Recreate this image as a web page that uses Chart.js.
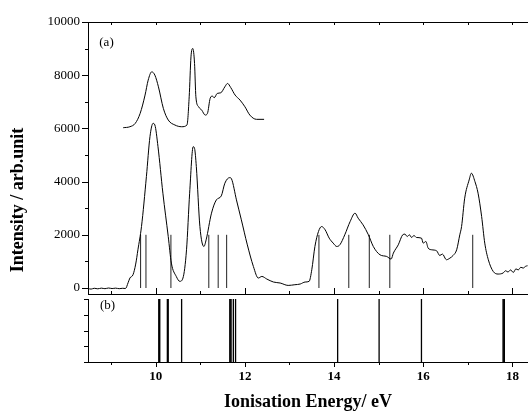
<!DOCTYPE html>
<html><head><meta charset="utf-8">
<script src="https://cdn.jsdelivr.net/npm/chart.js@4.4.1/dist/chart.umd.min.js"></script>
<style>
html,body{margin:0;padding:0;background:#fff;overflow:hidden;}
#wrap{position:relative;width:528px;height:415px;}
canvas{position:absolute;left:0;top:0;}
</style></head><body>
<div id="wrap"><canvas id="ca" width="528" height="415"></canvas><canvas id="cb" width="528" height="415"></canvas></div>
<script>
// ---- data ----
const energy = [8.48,8.55,8.62,8.70,8.78,8.86,8.94,9.02,9.10,9.18,9.26,9.32,9.38,9.42,9.49,9.55,9.60,9.68,9.79,9.87,9.94,9.98,10.05,10.16,10.28,10.35,10.46,10.54,10.61,10.69,10.76,10.84,10.87,10.91,10.99,11.08,11.13,11.25,11.36,11.47,11.55,11.66,11.70,11.81,11.92,12.05,12.19,12.30,12.38,12.49,12.64,12.79,12.97,13.12,13.24,13.35,13.44,13.50,13.57,13.65,13.72,13.80,13.89,13.98,14.06,14.13,14.24,14.36,14.47,14.54,14.65,14.77,14.88,15.03,15.18,15.28,15.33,15.44,15.54,15.59,15.64,15.69,15.74,15.79,15.85,15.96,16.00,16.06,16.11,16.19,16.30,16.37,16.43,16.52,16.60,16.67,16.75,16.82,16.86,16.93,17.03,17.08,17.16,17.23,17.31,17.38,17.46,17.57,17.68,17.79,17.85,17.90,17.96,18.02,18.08,18.13,18.19,18.24,18.30,18.34];
const intensity = [-20,-40,-10,-30,-5,-25,0,-20,-5,-25,-10,-20,200,375,500,900,1437,2311,4187,5688,6190,6127,5313,3564,1936,938,435,250,375,1437,3564,5313,5250,4562,2311,1561,1811,2814,3313,3463,3940,4150,4100,3313,2563,1650,810,375,435,338,225,188,98,124,150,225,250,687,1561,2124,2311,2187,1876,1688,1561,1625,2000,2499,2814,2626,2375,2000,1561,1249,1186,1088,1313,1624,2000,2026,1936,2000,1899,1974,1899,1876,1688,1749,1501,1437,1399,1223,1276,1062,1126,1223,1437,2000,2311,3377,4063,4315,4000,3564,2687,1688,1062,623,525,563,650,600,680,585,720,680,780,750,820,837];
const insetEnergy = [9.27,9.42,9.54,9.65,9.76,9.83,9.91,9.98,10.06,10.17,10.28,10.43,10.58,10.70,10.75,10.79,10.83,10.87,10.90,10.96,11.03,11.11,11.16,11.22,11.27,11.31,11.38,11.46,11.55,11.61,11.68,11.78,11.89,12.00,12.11,12.26,12.43];
const insetIntensity = [6026,6063,6190,6566,7253,7815,8127,8003,7564,6754,6315,6127,6063,6127,7189,8690,9005,8442,7189,6814,6690,6502,6566,7129,7215,7152,7316,7340,7564,7690,7541,7253,7065,6814,6502,6341,6341];
const stickEnergy = [9.66,9.78,10.34,11.19,11.40,11.59,13.66,14.33,14.79,15.25,17.11];
const stickHeight = [2000,2000,2000,2000,2000,2000,2000,2000,2000,2000,2000];
const calcEnergy = [10.067,10.09,10.26,10.28,10.58,11.66,11.69,11.74,11.79,14.08,15.01,15.96,17.79,17.82];
const xTicks = [10,12,14,16,18];
const yTicks = [0,2000,4000,6000,8000,10000];
const panelLabels = ['(a)','(b)'];
const xTitle = 'Ionisation Energy/ eV';
const yTitle = 'Intensity / arb.unit';

// ---- layout ----
const X_MIN = 8.48, X_MAX = 18.35;
const SERIF = "'Liberation Serif', 'Times New Roman', serif";

const spectrum = energy.map((e,i)=>({x:e,y:intensity[i]}));
const inset = insetEnergy.map((e,i)=>({x:e,y:insetIntensity[i]}));
const sticks = stickEnergy.flatMap((e,i)=>[{x:e,y:0},{x:e,y:stickHeight[i]},{x:e,y:null}]);
const calcLines = calcEnergy.flatMap(e=>[{x:e,y:0},{x:e,y:1},{x:e,y:null}]);

function line(ctx,x1,y1,x2,y2){ctx.beginPath();ctx.moveTo(x1,y1);ctx.lineTo(x2,y2);ctx.stroke();}

const plainScale = (extra) => Object.assign({
  type:'linear', min:X_MIN, max:X_MAX,
  grid:{display:false, drawTicks:false},
  border:{display:true, color:'#000', width:1}
}, extra);

const decoA = {
  id:'decoA',
  afterDraw(chart){
    const ctx = chart.ctx, a = chart.chartArea;
    const xs = chart.scales.x, ys = chart.scales.y;
    ctx.save();
    ctx.strokeStyle = '#000'; ctx.lineWidth = 1;
    for (let v = 0; v <= 10000; v += 1000) {
      const y = Math.round(ys.getPixelForValue(v)) + 0.5;
      line(ctx, a.left - (v % 2000 === 0 ? 6 : 3), y, a.left, y);
    }
    for (let v = 9; v <= 18; v++) {
      const x = Math.round(xs.getPixelForValue(v)) + 0.5;
      line(ctx, x, a.bottom, x, a.bottom - (v % 2 === 0 ? 6 : 3));
      line(ctx, x, a.top, x, a.top + 3);
    }
    ctx.fillStyle = '#000';
    ctx.font = "13px " + SERIF;
    ctx.textAlign = 'center'; ctx.textBaseline = 'middle';
    ctx.fillText(panelLabels[0], a.left + 18.5, a.top + 20.5);
    ctx.font = "bold 18px " + SERIF;
    ctx.translate(18.5, 200);
    ctx.rotate(-Math.PI/2);
    ctx.fillText(yTitle, 0, 0);
    ctx.restore();
  }
};

const decoB = {
  id:'decoB',
  afterDraw(chart){
    const ctx = chart.ctx, a = chart.chartArea;
    const xs = chart.scales.x, ys = chart.scales.y;
    ctx.save();
    ctx.strokeStyle = '#000'; ctx.lineWidth = 1;
    for (let v = 0; v <= 1.0001; v += 0.25) {
      const y = Math.round(ys.getPixelForValue(v)) + 0.5;
      line(ctx, a.left - 4, y, a.left, y);
    }
    for (let v = 9; v <= 18; v++) {
      const x = Math.round(xs.getPixelForValue(v)) + 0.5;
      line(ctx, x, a.bottom, x, a.bottom + (v % 2 === 0 ? 5 : 3));
    }
    ctx.fillStyle = '#000';
    ctx.font = "13px " + SERIF;
    ctx.textAlign = 'center'; ctx.textBaseline = 'middle';
    ctx.fillText(panelLabels[1], a.left + 19.5, a.top + 7);
    ctx.restore();
  }
};

const common = {
  responsive:false, animation:false, events:[],
  plugins:{legend:{display:false}, tooltip:{enabled:false}},
  elements:{point:{radius:0}}
};

new Chart(document.getElementById('ca'), {
  type:'line',
  data:{datasets:[
    {data:spectrum, borderColor:'#000', borderWidth:1, pointRadius:0, cubicInterpolationMode:'monotone', fill:false},
    {data:inset, borderColor:'#000', borderWidth:1, pointRadius:0, cubicInterpolationMode:'monotone', fill:false},
    {data:sticks, borderColor:'#222', borderWidth:1, pointRadius:0, spanGaps:false, tension:0, fill:false}
  ]},
  options:Object.assign({}, common, {
    layout:{padding:0},
    scales:{
      x: plainScale({position:'bottom', ticks:{display:false}, afterFit:s=>{s.height = 415 - 294;}}),
      xTop: plainScale({position:'top', ticks:{display:false}, afterFit:s=>{s.height = 22;}}),
      y:{type:'linear', position:'left', min:-225, max:10000,
         grid:{display:false, drawTicks:false},
         border:{display:true, color:'#000', width:1},
         afterBuildTicks:s=>{s.ticks = yTicks.map(v=>({value:v}));},
         ticks:{padding:8, color:'#000', font:{family:SERIF, size:13}, callback:v=>String(v)},
         afterFit:s=>{s.width = 88;}}
    }
  }),
  plugins:[decoA]
});

new Chart(document.getElementById('cb'), {
  type:'line',
  data:{datasets:[
    {data:calcLines, borderColor:'#000', borderWidth:1.3, pointRadius:0, spanGaps:false, tension:0, fill:false}
  ]},
  options:Object.assign({}, common, {
    layout:{padding:{top:299, left:0, right:0, bottom:0}},
    scales:{
      x: plainScale({position:'bottom',
         afterBuildTicks:s=>{s.ticks = xTicks.map(v=>({value:v}));},
         ticks:{padding:7, color:'#000', maxRotation:0, autoSkip:false, font:{family:SERIF, size:13, weight:'bold'}},
         title:{display:true, text:xTitle, color:'#000', padding:{top:0,bottom:2}, font:{family:SERIF, size:18, weight:'bold'}},
         afterFit:s=>{s.height = 415 - 362;}}),
      y:{type:'linear', position:'left', min:0, max:1,
         grid:{display:false, drawTicks:false},
         border:{display:true, color:'#000', width:1},
         ticks:{display:false},
         afterFit:s=>{s.width = 88;}}
    }
  }),
  plugins:[decoB]
});
</script>
</body></html>
